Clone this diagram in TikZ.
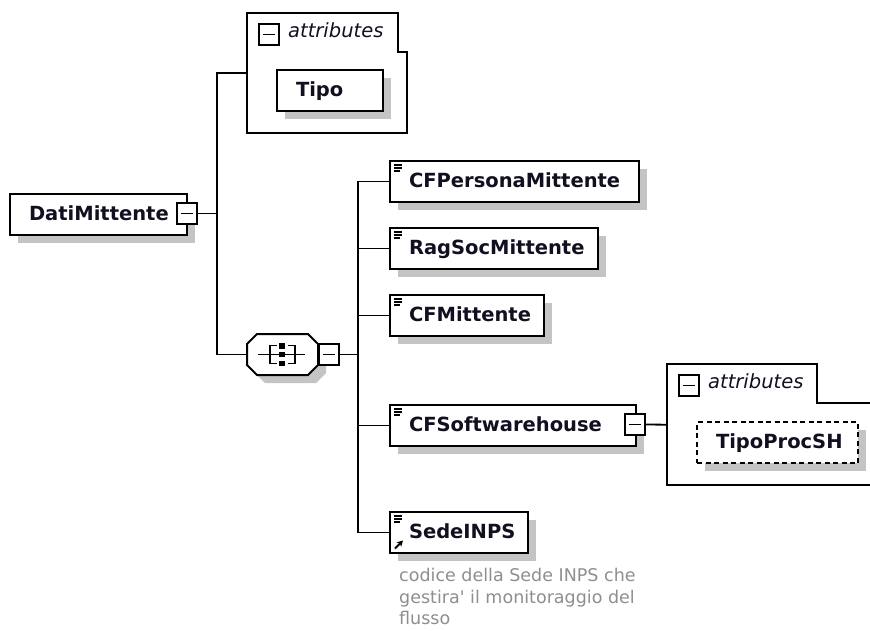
\documentclass[tikz,border=0pt]{standalone}
\usepackage{fontspec}
\setmainfont{DejaVu Sans}
\usetikzlibrary{shadows,arrows.meta}
\definecolor{shadowgray}{HTML}{C4C4C4}
\definecolor{desccol}{HTML}{8E8E8E}
\definecolor{ink}{HTML}{101020}
\begin{document}
\begin{tikzpicture}[x=1pt,y=-1pt,
  conn/.style={draw=black,line width=1.8pt},
  boxline/.style={draw=black,line width=2pt},
  shad/.style={drop shadow={shadow xshift=8pt,shadow yshift=-8pt,fill=shadowgray,opacity=1}},
  elem/.style={boxline,fill=white,rectangle,inner sep=0pt,
    minimum height=41pt,minimum width=#1,text width=#1,
    anchor=north west,align=left,text=ink,
    font=\fontsize{19.5}{22}\selectfont\bfseries,
    text height=15pt,text depth=3pt,
    execute at begin node={\noindent\hspace*{19pt}},shad},
  leaf/.style={path picture={
    \draw[line width=1.4pt]
      ([shift={(4,4)}]path picture bounding box.north west) -- ++(8,0)
      ([shift={(4,7)}]path picture bounding box.north west) -- ++(8,0)
      ([shift={(4,10)}]path picture bounding box.north west) -- ++(6,0);}},
  reflink/.style={path picture={
    \draw[line width=1.4pt]
      ([shift={(4,4)}]path picture bounding box.north west) -- ++(8,0)
      ([shift={(4,7)}]path picture bounding box.north west) -- ++(8,0)
      ([shift={(4,10)}]path picture bounding box.north west) -- ++(6,0);
    \draw[line width=2pt,-{Stealth[length=6pt,width=6.5pt]}]
      ([shift={(5,-4.5)}]path picture bounding box.south west) -- ++(8,-8);}},
  minusbox/.style={boxline,line width=1.8pt,fill=white,rectangle,inner sep=0pt,
    minimum width=20pt,minimum height=21pt,
    path picture={\draw[line width=1.6pt]
      ([xshift=4pt]path picture bounding box.west) -- ([xshift=-4pt]path picture bounding box.east);}},
  attrtxt/.style={anchor=base west,inner sep=0pt,text=ink,
    font=\fontsize{19.5}{22}\selectfont\itshape},
  desc/.style={anchor=north west,inner sep=0pt,align=left,text=desccol,
    font=\fontsize{17.5}{21.5}\selectfont}
]
\useasboundingbox (0,0) rectangle (870,630);
\clip (0,0) rectangle (870,630);

% ---- attributes box 1
\node[minimum width=160pt,minimum height=120pt,inner sep=0pt,anchor=north west] (attr1) at (247,13) {};
\begin{scope}[shift={(247,13)}]
  \draw[boxline,fill=white] (0,0) -- (151,0) -- (151,39) -- (160,39) -- (160,120) -- (0,120) -- cycle;
  \node[minusbox,anchor=north west] (am1) at (11,10) {};
  \node[attrtxt] (at1) at (41,24) {attributes};
\end{scope}

% ---- attributes box 2
\node[minimum width=220pt,minimum height=121pt,inner sep=0pt,anchor=north west] (attr2) at (667,364) {};
\begin{scope}[shift={(667,364)}]
  \draw[boxline,fill=white] (0,0) -- (150,0) -- (150,39) -- (230,39) -- (230,121) -- (0,121) -- cycle;
  \node[minusbox,anchor=north west] (am2) at (11,10) {};
  \node[attrtxt] (at2) at (41,24) {attributes};
\end{scope}

% ---- elements
\node[elem=177pt] (dati) at (9,193) {DatiMittente};
\node[elem=106pt] (tipo) at (276,69) {Tipo};
\node[elem=249pt,leaf] (cfp) at (389,160) {CFPersonaMittente};
\node[elem=208pt,leaf] (rag) at (389,227) {RagSocMittente};
\node[elem=154pt,leaf] (cfm) at (389,294) {CFMittente};
\node[elem=246pt,leaf] (cfs) at (389,404) {CFSoftwarehouse};
\node[elem=138pt,reflink] (sede) at (389,511) {SedeINPS};
\node[elem=161pt,dash pattern=on 5pt off 3.5pt] (tps) at (696,421) {TipoProcSH};

% ---- sequence compositor
\node[minimum width=71pt,minimum height=41pt,inner sep=0pt] (seq) at (282.5,354.5) {};
\begin{scope}[shift={(seq.center)}]
  \filldraw[boxline,fill=white,shad] (-25.5,-20.5) -- (25.5,-20.5) -- (35.5,-10.5) -- (35.5,10.5)
     -- (25.5,20.5) -- (-25.5,20.5) -- (-35.5,10.5) -- (-35.5,-10.5) -- cycle;
  \draw[line width=1.6pt] (-24.5,0) -- (22.5,0);
  \draw[line width=1.6pt] (-5.5,-9) -- (-12.5,-9) -- (-12.5,9) -- (-5.5,9);
  \draw[line width=1.6pt] (5.5,-9) -- (12.5,-9) -- (12.5,9) -- (5.5,9);
  \fill (-3.5,-11.5) rectangle (2,-6);
  \fill (-3.5,-2.75) rectangle (2,2.75);
  \fill (-3.5,6) rectangle (2,11.5);
\end{scope}

% ---- expanders
\node[minusbox] (dexp) at (187,213.5) {};
\node[minusbox] (seqexp) at (329,354.5) {};
\node[minusbox] (cfsexp) at (635,424.5) {};

% ---- connectors
\coordinate (j1) at (217,213.5);
\coordinate (j2) at (358,354.5);
\draw[conn] (dexp.east) -- (j1);
\draw[conn] (attr1.west) -| (j1) |- (seq.west);
\draw[conn] (seqexp.east) -- (j2);
\draw[conn] (cfp.west) -| (j2) |- (sede.west);
\draw[conn] (j2) |- (rag.west);
\draw[conn] (j2) |- (cfm.west);
\draw[conn] (j2) |- (cfs.west);
\draw[conn] (cfsexp.east) -- (attr2.west);

% ---- annotation
\node[desc] (descr) at (399,568) {codice della Sede INPS che\\gestira\textquotesingle{} il monitoraggio del\\flusso};
\end{tikzpicture}
\end{document}
